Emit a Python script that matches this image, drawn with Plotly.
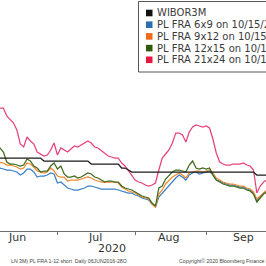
import pandas as pd
import plotly.graph_objects as go

# business days shown (Jun 5 .. Sep 25, 2020)
dates = pd.bdate_range("2020-06-05", "2020-09-25")

wibor3m = ([0.270] * 14 + [0.267] * 14 + [0.264] * 9 + [0.260, 0.260, 0.258, 0.256]
           + [0.256] * 21 + [0.256] * 15 + [0.253] * 4)

fra_6x9 = [0.260, 0.260, 0.259, 0.258, 0.258, 0.257, 0.256, 0.253, 0.255, 0.259, 0.259, 0.256, 0.251, 0.252, 0.252, 0.253, 0.255, 0.254,
           0.245, 0.246, 0.243, 0.240, 0.239, 0.238, 0.238, 0.239, 0.240, 0.242, 0.242, 0.241, 0.240, 0.239, 0.239, 0.239, 0.239, 0.239, 0.238, 0.237, 0.236, 0.235, 0.235,
           0.233, 0.232, 0.230, 0.229, 0.228, 0.224, 0.221, 0.231, 0.235, 0.239, 0.242, 0.246, 0.250, 0.253, 0.251, 0.248, 0.253, 0.255, 0.256, 0.254, 0.255,
           0.256, 0.257, 0.253, 0.248, 0.247, 0.245, 0.244, 0.243, 0.243, 0.242, 0.241, 0.241, 0.239, 0.238, 0.235, 0.227, 0.231, 0.235, 0.237]

fra_9x12 = [0.267, 0.266, 0.265, 0.263, 0.263, 0.262, 0.261, 0.259, 0.260, 0.265, 0.264, 0.261, 0.257, 0.256, 0.255, 0.256, 0.260, 0.257,
            0.252, 0.251, 0.251, 0.247, 0.248, 0.248, 0.248, 0.249, 0.250, 0.251, 0.250, 0.248, 0.247, 0.246, 0.246, 0.246, 0.246, 0.246, 0.245, 0.241, 0.239, 0.237, 0.236,
            0.235, 0.233, 0.231, 0.230, 0.229, 0.224, 0.221, 0.234, 0.238, 0.244, 0.248, 0.251, 0.253, 0.255, 0.253, 0.250, 0.255, 0.256, 0.257, 0.257, 0.256,
            0.257, 0.258, 0.255, 0.250, 0.248, 0.246, 0.245, 0.244, 0.244, 0.243, 0.242, 0.242, 0.240, 0.239, 0.236, 0.229, 0.232, 0.236, 0.238]

fra_12x15 = [0.282, 0.280, 0.276, 0.266, 0.264, 0.264, 0.263, 0.262, 0.263, 0.269, 0.267, 0.262, 0.260, 0.256, 0.257, 0.257, 0.262, 0.265,
             0.259, 0.262, 0.254, 0.251, 0.251, 0.252, 0.250, 0.251, 0.253, 0.255, 0.254, 0.251, 0.250, 0.248, 0.246, 0.247, 0.247, 0.246, 0.246, 0.242, 0.240, 0.239, 0.238,
             0.236, 0.234, 0.232, 0.231, 0.230, 0.225, 0.222, 0.240, 0.242, 0.249, 0.253, 0.256, 0.258, 0.258, 0.257, 0.256, 0.263, 0.267, 0.260, 0.259, 0.260,
             0.259, 0.260, 0.253, 0.248, 0.246, 0.244, 0.243, 0.242, 0.242, 0.241, 0.240, 0.240, 0.238, 0.237, 0.234, 0.226, 0.230, 0.234, 0.236]

fra_21x24 = [0.320, 0.320, 0.320, 0.312, 0.308, 0.305, 0.298, 0.284, 0.281, 0.291, 0.287, 0.284, 0.276, 0.274, 0.272, 0.273, 0.278, 0.285,
             0.273, 0.280, 0.278, 0.276, 0.279, 0.282, 0.281, 0.283, 0.285, 0.287, 0.285, 0.281, 0.280, 0.277, 0.274, 0.272, 0.271, 0.270, 0.270, 0.265, 0.262, 0.257, 0.252,
             0.248, 0.246, 0.245, 0.243, 0.242, 0.243, 0.245, 0.258, 0.270, 0.274, 0.278, 0.285, 0.295, 0.295, 0.293, 0.286, 0.296, 0.301, 0.303, 0.302, 0.301,
             0.302, 0.300, 0.289, 0.275, 0.266, 0.264, 0.263, 0.263, 0.264, 0.264, 0.264, 0.265, 0.263, 0.262, 0.258, 0.235, 0.242, 0.246, 0.248]

series_names = ["WIBOR3M", "PL FRA 6x9 on 10/15/20", "PL FRA 9x12 on 10/15/20",
                "PL FRA 12x15 on 10/15/20", "PL FRA 21x24 on 10/15/20"]
line_colors = ["#1a1a1a", "#3a7fc8", "#f08a30", "#3f6a1c", "#e8417a"]
swatch_colors = ["#111111", "#2a6fb0", "#f06a1a", "#2f5a10", "#e5173e"]

month_labels = ["Jun", "Jul", "Aug", "Sep"]
month_label_dates = ["2020-06-15", "2020-07-16", "2020-08-17", "2020-09-16"]
month_ticks = ["2020-07-01", "2020-08-03", "2020-09-01"]
year_label = "2020"
footer_left = "LN 3M) PL FRA 1-12 short  Daily 06JUN2016-28O"
footer_right = "Copyright\u00a9 2020 Bloomberg Finance L.P."

W, H = 266, 266
PLOT_BOTTOM = 231  # px from top


def py(ypx):
    return (PLOT_BOTTOM - ypx) / PLOT_BOTTOM


series_values = [wibor3m, fra_6x9, fra_9x12, fra_12x15, fra_21x24]

fig = go.Figure()
for idx in [1, 2, 3, 4, 0]:
    fig.add_trace(go.Scatter(x=dates, y=series_values[idx], mode="lines", name=series_names[idx],
                             line=dict(color=line_colors[idx], width=1.25),
                             showlegend=False))

shapes = []
annotations = []

# legend box
shapes.append(dict(type="rect", xref="paper", yref="paper",
                   x0=138.5 / W, x1=1.2, y0=py(72), y1=py(1.5),
                   line=dict(color="#555555", width=1), fillcolor="white", layer="above"))
row_y = [13, 24.7, 36.4, 48.1, 59.8]
for i, name in enumerate(series_names):
    yc = row_y[i]
    shapes.append(dict(type="rect", xref="paper", yref="paper",
                       x0=146 / W, x1=152.5 / W, y0=py(yc + 3.3), y1=py(yc - 3.3),
                       line=dict(width=0), fillcolor=swatch_colors[i], layer="above"))
    annotations.append(dict(xref="paper", yref="paper", x=154.5 / W, y=py(yc),
                            xanchor="left", yanchor="middle", text=name, showarrow=False,
                            font=dict(family="DejaVu Sans", size=10, color="#3a3a3a")))

# month labels
for lab, d in zip(month_labels, month_label_dates):
    annotations.append(dict(xref="x", yref="paper", x=d, y=py(237.5), text=lab,
                            showarrow=False, xanchor="center", yanchor="middle",
                            font=dict(family="DejaVu Sans", size=11, color="#333333")))
annotations.append(dict(xref="x", yref="paper", x="2020-07-23", y=py(248.5), text=year_label,
                        showarrow=False, xanchor="center", yanchor="middle",
                        font=dict(family="DejaVu Sans", size=11, color="#333333")))
# footer
annotations.append(dict(xref="paper", yref="paper", x=128.5 / W, y=py(261), text=footer_left,
                        showarrow=False, xanchor="right", yanchor="middle",
                        font=dict(family="Liberation Sans", size=5.2, color="#444444")))
annotations.append(dict(xref="paper", yref="paper", x=177 / W, y=py(261), text=footer_right,
                        showarrow=False, xanchor="left", yanchor="middle",
                        font=dict(family="Liberation Sans", size=5.2, color="#444444")))

fig.update_layout(
    width=W, height=H,
    margin=dict(l=0, r=0, t=0, b=H - PLOT_BOTTOM, pad=0, autoexpand=False),
    paper_bgcolor="white", plot_bgcolor="white",
    showlegend=False,
    shapes=shapes, annotations=annotations,
    xaxis=dict(type="date", range=["2020-06-08", "2020-09-24 17:00"],
               rangebreaks=[dict(bounds=["sat", "mon"])],
               showgrid=False, zeroline=False, showline=True, linecolor="#707070", linewidth=1,
               tickmode="array", tickvals=month_ticks, ticks="outside", ticklen=3,
               tickcolor="#707070", showticklabels=False, fixedrange=True),
    yaxis=dict(range=[0.197, 0.428], visible=False, fixedrange=True),
)

fig.write_html("out.html")
